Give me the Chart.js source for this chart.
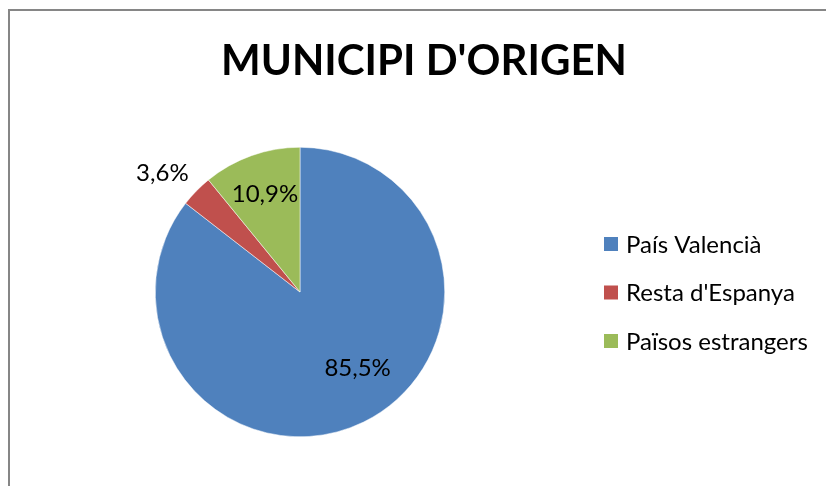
<!DOCTYPE html>
<html>
<head>
<meta charset="utf-8">
<script src="https://cdn.jsdelivr.net/npm/chart.js@4"></script>
<style>
  html, body { margin: 0; padding: 0; background: #fff; overflow: hidden; }
  #wrap { position: relative; width: 826px; height: 486px; }
  #frame { position: absolute; left: 8px; top: 9px; width: 830px; height: 490px; border: 2px solid #868686; box-sizing: border-box; }
  canvas { position: absolute; left: 0; top: 0; }
</style>
</head>
<body>
<div id="wrap">
  <div id="frame"></div>
  <canvas id="pie" width="826" height="486"></canvas>
</div>
<script>
const chartTitle = "MUNICIPI D'ORIGEN";
const categories = ['País Valencià', "Resta d'Espanya", 'Països estrangers'];
const values = [85.5, 3.6, 10.9];
const colors = ['#4F81BD', '#C0504D', '#9BBB59'];

const FONT = 'Lato, "Open Sans", sans-serif';

// excel "best fit" label spots: [radius factor, extra px, angle nudge in deg]
const labelFit = [[0.66, 0, -11], [1, 37, -3.5], [0.72, 0, 0]];

// title, slice labels and legend drawn by hand, excel style
const excelBits = {
    id: 'excelBits',
    afterDraw(chart) {
        const ctx = chart.ctx;
        ctx.save();
        ctx.fillStyle = '#000';
        ctx.textBaseline = 'middle';

        ctx.font = 'bold 42px ' + FONT;
        ctx.textAlign = 'center';
        ctx.fillText(chartTitle, 424, 61);

        ctx.font = '24px ' + FONT;
        const meta = chart.getDatasetMeta(0);
        meta.data.forEach((arc, i) => {
            const fit = labelFit[i];
            const mid = (arc.startAngle + arc.endAngle) / 2 + fit[2] * Math.PI / 180;
            const dist = arc.outerRadius * fit[0] + fit[1];
            const x = arc.x + Math.cos(mid) * dist;
            const y = arc.y + Math.sin(mid) * dist;
            ctx.fillText(String(values[i]).replace('.', ',') + '%', x, y);
        });

        ctx.textAlign = 'left';
        categories.forEach((c, i) => {
            const y = 244 + i * 48.5;
            ctx.fillStyle = colors[i];
            ctx.fillRect(604, y - 7, 14, 14);
            ctx.fillStyle = '#000';
            ctx.fillText(c, 626, y + 1);
        });
        ctx.restore();
    }
};

new Chart('pie', {
    type: 'pie',
    data: {
        labels: categories,
        datasets: [{
            data: values,
            backgroundColor: colors,
            borderColor: '#ffffff',
            borderWidth: 0.5
        }]
    },
    options: {
        responsive: false,
        animation: false,
        layout: { padding: { top: 147, bottom: 49, left: 155, right: 381 } },
        plugins: {
            legend: { display: false },
            title: { display: false },
            tooltip: { enabled: false }
        }
    },
    plugins: [excelBits]
});
</script>
</body>
</html>
